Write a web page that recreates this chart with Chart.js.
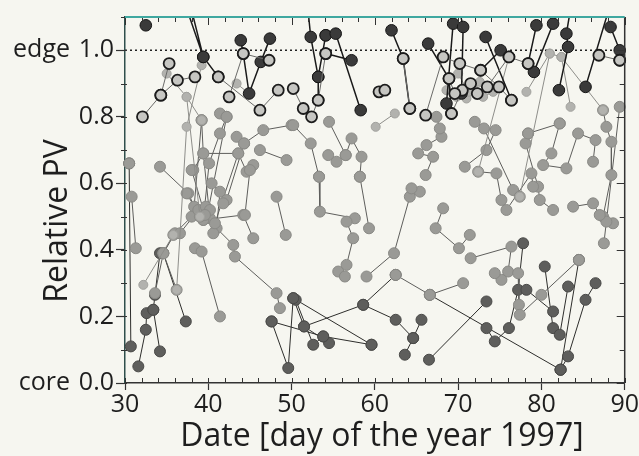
<!DOCTYPE html>
<html lang="en">
<head>
    <meta charset="UTF-8">
    <title>Relative PV trajectories 1997</title>
    <script src="https://cdn.jsdelivr.net/npm/chart.js"></script>
    <style>
        body {
            margin: 0;
            background: #f6f6f0;
        }
        #chart-container {
            position: relative;
            width: 639px;
            height: 456px;
        }
    </style>
</head>
<body>
    <div id="chart-container">
        <canvas id="pv-chart"></canvas>
    </div>

    <script>
        // axis ticks
        const xTicks = [30, 40, 50, 60, 70, 80, 90];
        const yTicks = [0.0, 0.2, 0.4, 0.6, 0.8, 1.0];
        const yTop = 1.1;
        const edgeLevel = 1.0;

        // trajectories as [day, relative PV], one list per shade
        // (values above 1.1 are tracks coming in from above the frame)
        const darkTracks = [
            [[32.5, 1.075]],
            [[37.2, 1.14], [39.4, 0.98], [41.2, 0.92]],
            [[37.8, 1.14], [39.4, 0.98]],
            [[43.9, 1.03], [44.2, 0.99], [44.9, 0.87], [46.3, 0.965], [47.4, 1.035]],
            [[51.9, 1.14], [52.3, 1.04], [53.2, 0.92], [53.2, 0.85]],
            [[54.1, 1.045], [53.2, 0.92]],
            [[54.1, 1.045], [55.3, 1.05], [58.3, 0.82]],
            [[54.1, 0.99], [57.2, 0.97]],
            [[62.0, 1.06], [63.4, 0.975], [64.2, 0.825]],
            [[66.4, 1.02], [68.9, 0.915], [69.2, 0.81]],
            [[69.0, 1.14], [69.4, 1.08], [68.6, 0.84]],
            [[70.0, 1.14], [70.6, 1.07], [70.4, 0.87]],
            [[73.3, 1.04], [76.4, 0.85]],
            [[72.7, 0.94], [75.1, 1.0], [76.1, 0.98]],
            [[79.4, 1.075], [78.4, 0.96]],
            [[82.2, 1.14], [81.4, 1.08], [79.1, 0.935]],
            [[83.6, 1.14], [83.0, 1.05], [83.2, 1.01], [82.1, 0.88]],
            [[88.3, 1.14], [85.3, 0.89]],
            [[88.3, 1.07], [89.4, 1.0], [89.4, 0.97]]
        ];
        const ringTracks = [
            [[32.1, 0.80], [34.3, 0.865], [36.3, 0.91], [38.4, 0.92]],
            [[35.3, 0.96], [34.3, 0.865]],
            [[41.2, 0.92], [46.2, 0.82], [48.4, 0.88]],
            [[42.5, 0.86], [44.2, 0.99], [47.3, 0.97]],
            [[50.2, 0.885], [51.4, 0.825], [52.4, 0.80], [53.2, 0.85], [54.1, 0.99]],
            [[60.5, 0.875], [61.2, 0.88]],
            [[63.4, 0.975], [64.2, 0.825]],
            [[66.1, 0.805], [68.2, 0.98], [70.2, 0.96], [72.7, 0.94], [74.9, 0.89], [76.4, 0.85]],
            [[69.2, 0.81], [70.5, 0.88], [71.5, 0.90], [72.3, 0.87], [73.5, 0.89], [76.1, 0.98], [78.4, 0.96]],
            [[68.9, 0.915], [69.6, 0.87]],
            [[86.9, 0.985], [89.4, 0.97]]
        ];
        const lightTracks = [
            [[35.0, 0.93], [37.4, 0.86], [39.2, 0.79]],
            [[39.2, 0.955], [37.4, 0.77], [36.2, 0.28]],
            [[37.4, 0.86], [39.0, 0.50]],
            [[43.4, 0.90], [44.9, 0.87]],
            [[32.2, 0.295], [35.8, 0.445]],
            [[60.1, 0.77], [62.4, 0.81]],
            [[68.6, 0.88], [69.8, 0.86], [71.0, 0.855], [72.0, 0.88], [73.0, 0.86], [74.2, 0.875]],
            [[70.0, 0.93], [71.2, 0.875], [72.6, 0.905]],
            [[78.2, 0.875], [81.0, 0.99], [82.4, 0.98], [87.4, 0.82]],
            [[83.5, 0.83], [82.4, 0.98]],
            [[76.1, 0.98], [72.4, 0.635]],
            [[81.0, 0.99], [77.4, 0.56]]
        ];
        const midTracks = [
            [[30.5, 0.66]],
            [[30.8, 0.56], [31.3, 0.405]],
            [[34.2, 0.65], [37.6, 0.57], [38.6, 0.515]],
            [[39.2, 0.79], [39.4, 0.69], [40.2, 0.495]],
            [[41.4, 0.81], [42.2, 0.80], [41.4, 0.75], [40.1, 0.66], [39.4, 0.49]],
            [[43.4, 0.74], [44.3, 0.72], [46.6, 0.76], [50.0, 0.775]],
            [[38.2, 0.64], [39.4, 0.69], [43.6, 0.69], [44.6, 0.635], [45.4, 0.655]],
            [[46.2, 0.70], [49.4, 0.67]],
            [[40.4, 0.60], [41.4, 0.575], [41.0, 0.465], [43.0, 0.415], [43.2, 0.38], [48.2, 0.27], [48.6, 0.225]],
            [[35.8, 0.445], [34.6, 0.39], [36.2, 0.28]],
            [[38.4, 0.405], [39.2, 0.395], [41.4, 0.20]],
            [[33.6, 0.27], [34.6, 0.39], [36.0, 0.45], [38.6, 0.515], [39.4, 0.49], [44.2, 0.505], [45.4, 0.435]],
            [[39.2, 0.79], [38.3, 0.53], [38.0, 0.50]],
            [[42.2, 0.80], [40.0, 0.52], [40.6, 0.45]],
            [[44.3, 0.72], [42.2, 0.55], [41.8, 0.54]],
            [[43.6, 0.69], [40.8, 0.48], [39.0, 0.50], [37.4, 0.57]],
            [[36.6, 0.45], [38.8, 0.52], [39.7, 0.53], [40.2, 0.52]],
            [[38.0, 0.64], [39.6, 0.505]],
            [[45.0, 0.64], [44.4, 0.505]],
            [[49.3, 0.445], [48.2, 0.56]],
            [[50.2, 0.775], [52.3, 0.72], [53.3, 0.62]],
            [[54.5, 0.785], [56.5, 0.685], [57.2, 0.735], [58.4, 0.68], [58.2, 0.62]],
            [[54.4, 0.685], [55.4, 0.665], [56.5, 0.685]],
            [[53.3, 0.62], [53.4, 0.515], [57.6, 0.495], [56.6, 0.485], [57.4, 0.435], [56.6, 0.355], [55.6, 0.335], [56.4, 0.32]],
            [[58.2, 0.62], [59.3, 0.465]],
            [[59.0, 0.32], [62.3, 0.39], [64.2, 0.56], [65.4, 0.575], [64.4, 0.585]],
            [[66.1, 0.625], [67.0, 0.68], [65.2, 0.69], [66.2, 0.715], [68.0, 0.74], [67.8, 0.765], [67.4, 0.80]],
            [[68.2, 0.525], [67.3, 0.465], [70.1, 0.405], [71.4, 0.445]],
            [[71.5, 0.375], [76.4, 0.41], [76.0, 0.335], [75.2, 0.31], [74.4, 0.33]],
            [[77.2, 0.33], [77.3, 0.235], [77.4, 0.205], [80.0, 0.265], [84.5, 0.37]],
            [[72.0, 0.785], [73.1, 0.765], [76.6, 0.58], [77.4, 0.56]],
            [[78.4, 0.75], [78.1, 0.72], [79.6, 0.59], [79.8, 0.55], [81.4, 0.52]],
            [[82.2, 0.78], [81.2, 0.69], [80.2, 0.655], [83.0, 0.645], [84.4, 0.75], [86.5, 0.73], [86.2, 0.665]],
            [[87.4, 0.82], [87.8, 0.77], [88.4, 0.725], [88.4, 0.625], [87.4, 0.50], [88.6, 0.48]],
            [[89.4, 0.83], [87.8, 0.485], [87.5, 0.42]],
            [[72.4, 0.635], [74.6, 0.63], [75.2, 0.55], [75.8, 0.52], [78.8, 0.63], [79.0, 0.59]],
            [[83.8, 0.53], [86.2, 0.54], [87.0, 0.505]],
            [[78.4, 0.75], [82.2, 0.78]],
            [[70.8, 0.65], [73.4, 0.70], [74.5, 0.76]],
            [[62.5, 0.325], [66.6, 0.265], [70.6, 0.30]]
        ];
        const lowTracks = [
            [[30.5, 0.66], [30.7, 0.11]],
            [[31.6, 0.05], [32.5, 0.16], [32.6, 0.21], [33.4, 0.22], [33.6, 0.265], [34.2, 0.39]],
            [[33.4, 0.22], [34.2, 0.095]],
            [[34.6, 0.39], [37.3, 0.185]],
            [[47.6, 0.185], [49.6, 0.045], [50.2, 0.255], [51.5, 0.17], [54.5, 0.12]],
            [[47.6, 0.185], [53.8, 0.14], [59.6, 0.115]],
            [[50.5, 0.25], [52.6, 0.115], [53.8, 0.14]],
            [[50.2, 0.255], [59.6, 0.115]],
            [[51.5, 0.17], [58.6, 0.235], [62.5, 0.325]],
            [[58.6, 0.235], [62.5, 0.19], [64.6, 0.135], [65.6, 0.19]],
            [[64.6, 0.135], [63.6, 0.085]],
            [[66.5, 0.07], [73.4, 0.245]],
            [[66.6, 0.265], [82.3, 0.04]],
            [[73.4, 0.165], [74.4, 0.125], [76.1, 0.165], [77.2, 0.28], [77.8, 0.42]],
            [[80.4, 0.35], [81.4, 0.165], [82.2, 0.145], [83.2, 0.29]],
            [[82.3, 0.04], [83.2, 0.08], [85.3, 0.25], [86.5, 0.30]],
            [[82.3, 0.04], [84.5, 0.37]],
            [[81.4, 0.215], [78.2, 0.28]]
        ];

        // flatten tracks, null point breaks the line between tracks
        function toPoints(tracks) {
            const pts = [];
            tracks.forEach(t => {
                t.forEach(p => pts.push({ x: p[0], y: p[1] }));
                pts.push({ x: null, y: null });
            });
            return pts;
        }

        function trackSet(tracks, fill, edge, line, lineWidth, radius, edgeWidth, order) {
            return {
                data: toPoints(tracks),
                showLine: true,
                spanGaps: false,
                borderColor: line,
                borderWidth: lineWidth,
                pointRadius: radius,
                pointBackgroundColor: fill,
                pointBorderColor: edge,
                pointBorderWidth: edgeWidth,
                clip: { left: 8, right: 8, bottom: 8, top: 0 },
                order: order
            };
        }

        const FONT = '"Open Sans", sans-serif';

        const decor = {
            id: 'decor',
            beforeDraw(chart) {
                const ctx = chart.ctx;
                ctx.save();
                ctx.fillStyle = '#f6f6f0';
                ctx.fillRect(0, 0, chart.width, chart.height);
                ctx.restore();
            },
            afterDraw(chart) {
                const { ctx, chartArea: a, scales: { x, y } } = chart;
                ctx.save();
                ctx.strokeStyle = '#333';
                ctx.lineWidth = 1;
                ctx.beginPath();
                // minor ticks every 2 days, inward on bottom and top
                for (let d = x.min; d <= x.max; d += 2) {
                    const px = Math.round(x.getPixelForValue(d)) + 0.5;
                    const len = d % 10 === 0 ? 8 : 5;
                    ctx.moveTo(px, a.bottom); ctx.lineTo(px, a.bottom - 5);
                    ctx.moveTo(px, a.top); ctx.lineTo(px, a.top + len);
                }
                // minor ticks every 0.1 on left and right
                for (let i = 0; i <= 11; i++) {
                    const py = Math.round(y.getPixelForValue(i / 10)) + 0.5;
                    const len = i % 2 === 0 ? 8 : 5;
                    ctx.moveTo(a.left - 4, py); ctx.lineTo(a.left + 2, py);
                    ctx.moveTo(a.right, py); ctx.lineTo(a.right - len, py);
                }
                ctx.stroke();

                // right frame and teal top frame
                ctx.lineWidth = 1.5;
                ctx.strokeStyle = '#333';
                ctx.beginPath();
                ctx.moveTo(a.right, a.top); ctx.lineTo(a.right, a.bottom);
                ctx.stroke();
                ctx.lineWidth = 2;
                ctx.strokeStyle = '#3fa8a0';
                ctx.beginPath();
                ctx.moveTo(a.left, a.top); ctx.lineTo(a.right, a.top);
                ctx.stroke();

                // edge / core labels and titles
                ctx.fillStyle = '#1e1e1e';
                ctx.font = '25px ' + FONT;
                ctx.textAlign = 'right';
                ctx.textBaseline = 'middle';
                ctx.fillText('edge', 70, y.getPixelForValue(edgeLevel));
                ctx.fillText('core', 70, y.getPixelForValue(yTicks[0]));

                ctx.font = '32px ' + FONT;
                ctx.textAlign = 'center';
                ctx.textBaseline = 'alphabetic';
                ctx.fillText('Date [day of the year 1997]', 382, 446);

                ctx.translate(67, (a.top + a.bottom) / 2 + 21);
                ctx.rotate(-Math.PI / 2);
                ctx.fillText('Relative PV', 0, 0);
                ctx.restore();
            }
        };

        const edgeLine = {
            data: [{ x: xTicks[0], y: edgeLevel }, { x: xTicks[xTicks.length - 1], y: edgeLevel }],
            showLine: true,
            borderColor: '#222',
            borderWidth: 1.5,
            borderDash: [2, 3],
            pointRadius: 0,
            order: 10
        };

        const config = {
            type: 'scatter',
            data: {
                datasets: [
                    trackSet(ringTracks, '#c6c6c2', '#1c1c1c', '#6a6a68', 1, 5.5, 1.8, 1),
                    trackSet(darkTracks, '#3a3a3a', '#161616', '#1a1a1a', 1.5, 5.8, 1, 2),
                    trackSet(lightTracks, '#b2b2ae', '#a2a29e', '#8e8e8a', 1, 4.5, 1, 3),
                    trackSet(midTracks, '#9a9a96', '#8a8a86', '#5e5e5c', 1, 5.5, 1, 4),
                    trackSet(lowTracks, '#5e5e5c', '#4a4a48', '#2e2e2c', 1, 5.5, 1, 5),
                    edgeLine
                ]
            },
            options: {
                responsive: true,
                maintainAspectRatio: false,
                animation: false,
                layout: { padding: { top: 16, right: 14, left: 0, bottom: 0 } },
                plugins: {
                    legend: { display: false },
                    tooltip: { enabled: false }
                },
                scales: {
                    x: {
                        type: 'linear',
                        min: xTicks[0],
                        max: xTicks[xTicks.length - 1],
                        afterBuildTicks: s => { s.ticks = xTicks.map(v => ({ value: v })); },
                        afterFit: s => { s.height = 73; },
                        ticks: {
                            color: '#1e1e1e',
                            font: { family: FONT, size: 25 },
                            padding: 0,
                            maxRotation: 0
                        },
                        grid: { drawOnChartArea: false, tickLength: 7, color: '#333', tickWidth: 1.2 },
                        border: { color: '#333', width: 1.5 }
                    },
                    y: {
                        type: 'linear',
                        min: 0,
                        max: yTop,
                        afterBuildTicks: s => { s.ticks = yTicks.map(v => ({ value: v })); },
                        afterFit: s => { s.width = 125; },
                        ticks: {
                            color: '#1e1e1e',
                            font: { family: FONT, size: 25 },
                            padding: 2,
                            callback: v => Number(v).toFixed(1)
                        },
                        grid: { drawOnChartArea: false, tickLength: 9, color: '#333', tickWidth: 1.2 },
                        border: { color: '#2f4f4c', width: 1.5 }
                    }
                }
            },
            plugins: [decor]
        };

        const ctx = document.getElementById('pv-chart').getContext('2d');
        const pvChart = new Chart(ctx, config);
    </script>
</body>
</html>
